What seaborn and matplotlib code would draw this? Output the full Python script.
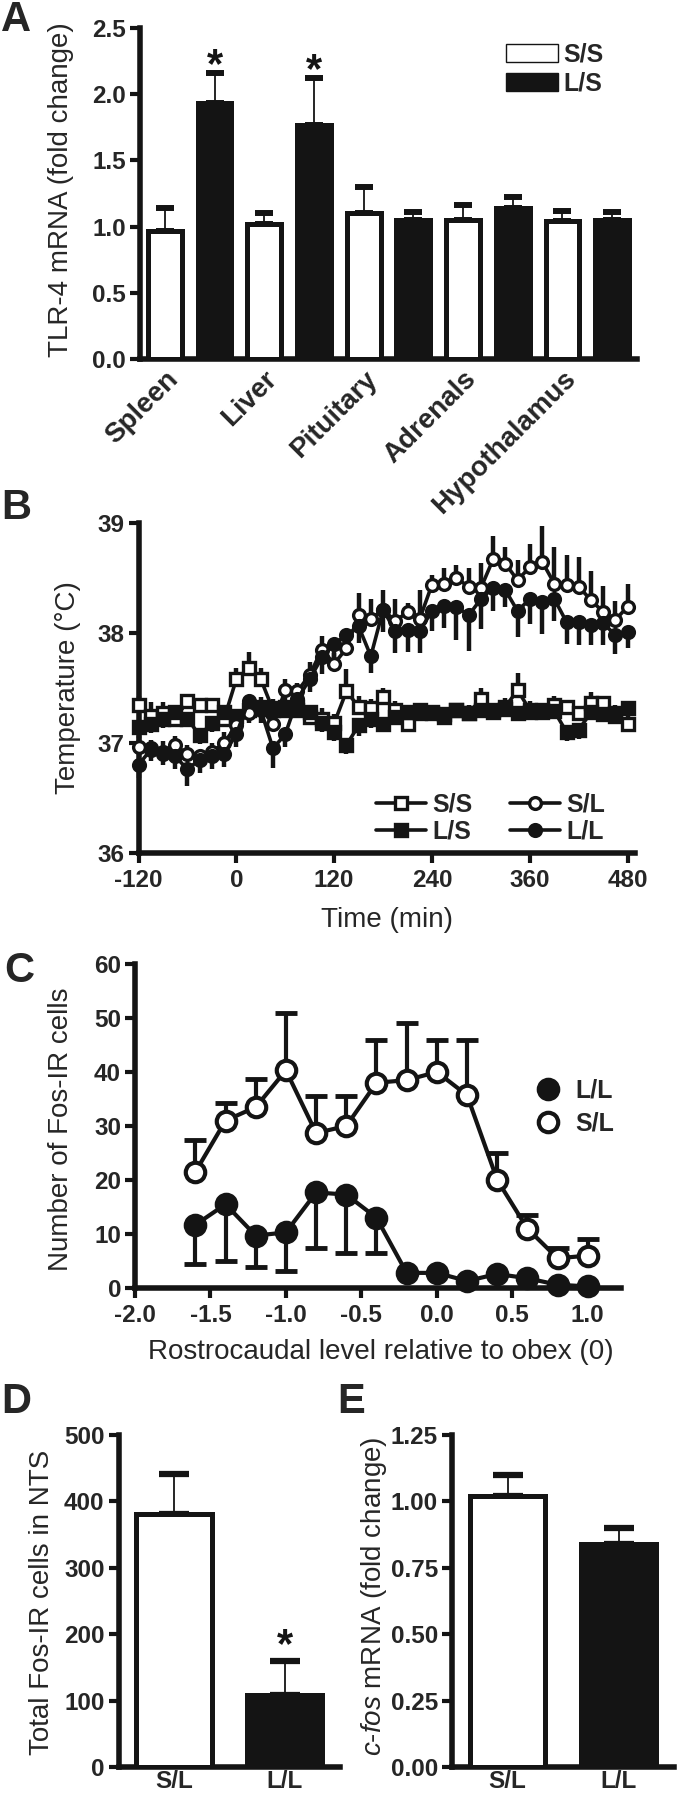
import numpy as np
import pandas as pd
import matplotlib
matplotlib.use("Agg")
import matplotlib.pyplot as plt
import seaborn as sns
from matplotlib.lines import Line2D
from matplotlib.patches import Patch

# ---------------- data ----------------
# Panel A
tissues = ["Spleen", "Liver", "Pituitary", "Adrenals", "Hypothalamus"]
a_ss_mean = [0.97, 1.02, 1.10, 1.05, 1.04]
a_ss_sem = [0.17, 0.08, 0.20, 0.11, 0.08]
a_ls_mean = [1.93, 1.77, 1.05, 1.14, 1.05]
a_ls_sem = [0.23, 0.35, 0.06, 0.08, 0.06]

# Panel B (time in min, temperature in C)
b_time = [-120, -105, -90, -75, -60, -45, -30, -15, 0, 15, 30, 45, 60, 75, 90,
          105, 120, 135, 150, 165, 180, 195, 210, 225, 240, 255, 270, 285, 300,
          315, 330, 345, 360, 375, 390, 405, 420, 435, 450, 465, 480]
b_ss = [37.35, 37.25, 37.27, 37.22, 37.38, 37.35, 37.35, 37.22, 37.58, 37.68,
        37.58, 37.30, 37.33, 37.30, 37.24, 37.22, 37.18, 37.47, 37.33, 37.32,
        37.42, 37.30, 37.17, 37.30, 37.27, 37.24, 37.30, 37.27, 37.40, 37.30,
        37.33, 37.48, 37.30, 37.28, 37.35, 37.33, 37.27, 37.36, 37.36, 37.27, 37.17]
b_ss_sem = [0.08, 0.12, 0.10, 0.08, 0.06, 0.06, 0.06, 0.10, 0.10, 0.15, 0.10,
            0.10, 0.08, 0.08, 0.10, 0.10, 0.08, 0.20, 0.10, 0.08, 0.08, 0.08,
            0.10, 0.06, 0.08, 0.06, 0.06, 0.08, 0.10, 0.06, 0.08, 0.16, 0.08,
            0.06, 0.08, 0.06, 0.06, 0.10, 0.06, 0.08, 0.10]
b_ls = [37.15, 37.17, 37.22, 37.28, 37.22, 37.07, 37.18, 37.28, 37.25, 37.30,
        37.33, 37.32, 37.30, 37.33, 37.28, 37.18, 37.10, 36.98, 37.16, 37.22,
        37.17, 37.24, 37.28, 37.27, 37.28, 37.26, 37.30, 37.27, 37.30, 37.28,
        37.31, 37.27, 37.28, 37.30, 37.29, 37.10, 37.12, 37.28, 37.26, 37.25, 37.32]
b_ls_sem = [0.10, 0.08, 0.08, 0.10, 0.06, 0.08, 0.08, 0.06, 0.06, 0.06, 0.06,
            0.06, 0.05, 0.06, 0.06, 0.08, 0.08, 0.08, 0.10, 0.08, 0.06, 0.05,
            0.06, 0.06, 0.05, 0.06, 0.05, 0.06, 0.05, 0.05, 0.06, 0.06, 0.05,
            0.06, 0.06, 0.08, 0.08, 0.06, 0.06, 0.06, 0.06]
b_sl = [36.96, 36.95, 36.92, 36.98, 36.90, 36.88, 36.92, 37.00, 37.16, 37.27,
        37.32, 37.17, 37.48, 37.47, 37.62, 37.85, 37.72, 37.86, 38.16, 38.13,
        38.21, 38.11, 38.19, 38.13, 38.44, 38.45, 38.50, 38.42, 38.41, 38.67,
        38.63, 38.48, 38.60, 38.65, 38.45, 38.44, 38.42, 38.30, 38.19, 38.12, 38.24]
b_sl_sem = [0.10, 0.08, 0.10, 0.08, 0.08, 0.06, 0.08, 0.10, 0.12, 0.12, 0.10,
            0.10, 0.10, 0.08, 0.12, 0.12, 0.10, 0.10, 0.20, 0.18, 0.18, 0.20,
            0.08, 0.26, 0.09, 0.14, 0.12, 0.17, 0.23, 0.21, 0.15, 0.18, 0.21,
            0.32, 0.33, 0.27, 0.27, 0.26, 0.24, 0.17, 0.21]
b_ll = [36.80, 36.94, 36.90, 36.88, 36.76, 36.85, 36.88, 36.90, 37.08, 37.38,
        37.30, 36.95, 37.08, 37.40, 37.58, 37.78, 37.90, 37.98, 38.06, 37.79,
        38.21, 38.02, 38.03, 38.02, 38.20, 38.25, 38.24, 38.16, 38.31, 38.41,
        38.39, 38.20, 38.31, 38.28, 38.31, 38.10, 38.10, 38.07, 38.09, 37.98, 38.01]
b_ll_sem = [0.12, 0.10, 0.10, 0.12, 0.15, 0.12, 0.12, 0.12, 0.12, 0.20, 0.12,
            0.18, 0.12, 0.12, 0.12, 0.15, 0.15, 0.15, 0.15, 0.15, 0.20, 0.20,
            0.20, 0.20, 0.18, 0.20, 0.30, 0.32, 0.27, 0.21, 0.15, 0.24, 0.23,
            0.29, 0.20, 0.20, 0.21, 0.18, 0.20, 0.17, 0.15]

# Panel C
c_level = [-1.6, -1.4, -1.2, -1.0, -0.8, -0.6, -0.4, -0.2, 0.0, 0.2, 0.4, 0.6, 0.8, 1.0]
c_sl = [21.5, 31.0, 33.5, 40.3, 28.7, 30.0, 38.0, 38.5, 40.0, 35.7, 20.0, 11.0, 5.5, 6.0]
c_sl_sem = [6.0, 3.3, 5.2, 10.7, 6.8, 5.5, 8.0, 10.5, 6.0, 10.3, 5.0, 2.5, 2.0, 3.0]
c_ll = [11.7, 15.5, 9.7, 10.3, 17.7, 17.3, 13.0, 2.8, 2.8, 1.3, 2.6, 1.8, 0.6, 0.3]
c_ll_sem = [7.2, 10.5, 5.8, 7.1, 10.2, 10.8, 6.5, 0.0, 0.0, 0.0, 0.0, 0.0, 0.0, 0.0]

# Panel D and E
de_groups = ["S/L", "L/L"]
d_mean = [381, 108]
d_sem = [60, 52]
e_mean = [1.02, 0.84]
e_sem = [0.08, 0.06]

# ---------------- style ----------------
sns.set_style("ticks")
plt.rcParams["font.family"] = ["Liberation Sans", "DejaVu Sans"]
plt.rcParams["axes.unicode_minus"] = False
plt.rcParams["mathtext.fontset"] = "custom"
plt.rcParams["mathtext.rm"] = "Liberation Sans"
plt.rcParams["mathtext.it"] = "Liberation Sans:italic"

TICK_FS = 17.5
LAB_FS = 20
BLACK = "#141414"
W, H = 679, 1800

fig = plt.figure(figsize=(W / 100, H / 100), dpi=100)


def add_axes(left, right, top, bottom):
    return fig.add_axes([left / W, 1 - bottom / H, (right - left) / W, (bottom - top) / H])


def style_axes(ax, xtick_len=10):
    sns.despine(ax=ax)
    for s in ("left", "bottom"):
        ax.spines[s].set_linewidth(4)
        ax.spines[s].set_color(BLACK)
    ax.tick_params(axis="y", direction="out", length=7, width=3, color=BLACK,
                   labelsize=TICK_FS, pad=3)
    ax.tick_params(axis="x", direction="out", length=xtick_len * 0.72, width=3,
                   color=BLACK, labelsize=TICK_FS, pad=4)
    for lab in ax.get_xticklabels() + ax.get_yticklabels():
        lab.set_fontweight("bold")
    ax.set_xlabel("")
    ax.set_ylabel("")


def ylab(x, y, s):
    fig.text(x / W, 1 - y / H, s, rotation=90, ha="center", va="center", fontsize=LAB_FS)


def xlab(x, y, s):
    fig.text(x / W, 1 - y / H, s, ha="center", va="center", fontsize=LAB_FS)


def letter(x, y, s):
    fig.text(x / W, 1 - y / H, s, ha="left", va="top", fontsize=30, fontweight="bold")


# ---------------- Panel A ----------------
axA = add_axes(140, 637, 28, 359)
slots, vals, sems, grp = [], [], [], []
for i, t in enumerate(tissues):
    slots += [t + " S/S", t + " L/S"]
    vals += [a_ss_mean[i], a_ls_mean[i]]
    sems += [a_ss_sem[i], a_ls_sem[i]]
    grp += ["S/S", "L/S"]
dfA = pd.DataFrame({"slot": slots, "value": vals, "group": grp})
sns.barplot(data=dfA, x="slot", y="value", hue="group", order=slots,
            palette={"S/S": "white", "L/S": BLACK}, dodge=False, width=0.68,
            edgecolor=BLACK, linewidth=3.6, errorbar=None, legend=False, ax=axA, zorder=3)
xa = np.arange(len(slots))
axA.errorbar(xa, vals, yerr=[np.zeros(len(vals)), sems], fmt="none", ecolor=BLACK,
             elinewidth=1.3, capsize=6.5, capthick=4.3, zorder=2)
axA.set_ylim(0, 2.5)
axA.set_xlim(-0.5, 9.5)
axA.set_yticks([0, 0.5, 1.0, 1.5, 2.0, 2.5])
axA.set_yticklabels(["0.0", "0.5", "1.0", "1.5", "2.0", "2.5"])
axA.set_xticks(xa[::2])
axA.set_xticklabels(tissues)
style_axes(axA, xtick_len=0)
axA.tick_params(axis="x", length=0, pad=5, labelsize=20)
for lab in axA.get_xticklabels():
    lab.set_rotation(45)
    lab.set_ha("right")
    lab.set_va("top")
    lab.set_rotation_mode("anchor")
    lab.set_fontweight("bold")
for i in (1, 3):
    axA.text(xa[i], vals[i] + sems[i] - 0.03, "*", ha="center", va="baseline",
             fontsize=30, fontweight="bold", color=BLACK)
axA.legend(handles=[Patch(facecolor="white", edgecolor=BLACK, linewidth=1),
                    Patch(facecolor=BLACK, edgecolor=BLACK, linewidth=1)],
           labels=["S/S", "L/S"], loc="center", bbox_to_anchor=(0.835, 0.876),
           frameon=False, handlelength=2.08, handleheight=0.76, labelspacing=0.2,
           handletextpad=0.2, prop={"size": 18, "weight": "bold"})
ylab(61, 190, "TLR-4 mRNA (fold change)")
letter(1, 0, "A")

# ---------------- Panel B ----------------
axB = add_axes(138.5, 635, 523, 853)
dfB = pd.DataFrame({
    "time": b_time * 4,
    "temp": b_ss + b_ls + b_sl + b_ll,
    "group": ["S/S"] * len(b_time) + ["L/S"] * len(b_time) + ["S/L"] * len(b_time) + ["L/L"] * len(b_time),
})
b_style = {"S/S": ("s", "white", b_ss_sem, "up"), "L/S": ("s", BLACK, b_ls_sem, "down"),
           "S/L": ("o", "white", b_sl_sem, "up"), "L/L": ("o", BLACK, b_ll_sem, "down")}
for g, (mk, fc, se, d) in b_style.items():
    sub = dfB[dfB["group"] == g]
    se = np.array(se)
    yerr = [np.zeros_like(se), se] if d == "up" else [se, np.zeros_like(se)]
    axB.errorbar(sub["time"], sub["temp"], yerr=yerr, fmt="none", ecolor=BLACK,
                 elinewidth=3.2, capsize=0, zorder=2, clip_on=False)
for g, (mk, fc, se, d) in b_style.items():
    sub = dfB[dfB["group"] == g]
    sns.lineplot(data=sub, x="time", y="temp", color=BLACK, linewidth=2.6, marker=mk,
                 markersize=8.5, markerfacecolor=fc, markeredgecolor=BLACK,
                 markeredgewidth=2.4, errorbar=None, legend=False, ax=axB, zorder=3,
                 clip_on=False)
axB.set_xlim(-120, 489)
axB.set_ylim(36, 39)
axB.set_xticks([-120, 0, 120, 240, 360, 480])
axB.set_yticks([36, 37, 38, 39])
style_axes(axB)
b_handles = [Line2D([], [], color=BLACK, lw=2.6, marker=b_style[g][0], ms=8.5,
                    mfc=b_style[g][1], mec=BLACK, mew=2.4) for g in ["S/S", "L/S", "S/L", "L/L"]]
axB.legend(handles=b_handles, labels=["S/S", "L/S", "S/L", "L/L"], ncol=2,
           loc="center", bbox_to_anchor=(0.71, 0.106), frameon=False,
           handlelength=2.0, handletextpad=0.25, columnspacing=1.5, labelspacing=0.1,
           prop={"size": 18, "weight": "bold"})
ylab(68, 688, "Temperature (°C)")
xlab(387, 920, "Time (min)")
letter(1, 488, "B")

# ---------------- Panel C ----------------
axC = add_axes(135, 621, 964, 1288)
dfC = pd.DataFrame({"level": c_level * 2, "count": c_sl + c_ll,
                    "group": ["S/L"] * len(c_level) + ["L/L"] * len(c_level)})
axC.errorbar(c_level, c_sl, yerr=[np.zeros(len(c_sl)), c_sl_sem], fmt="none",
             ecolor=BLACK, elinewidth=3, capsize=8, capthick=3.5, zorder=2, clip_on=False)
axC.errorbar(c_level[:7], c_ll[:7], yerr=[c_ll_sem[:7], np.zeros(7)], fmt="none",
             ecolor=BLACK, elinewidth=3, capsize=8, capthick=3.5, zorder=2, clip_on=False)
for g, fc in (("S/L", "white"), ("L/L", BLACK)):
    sns.lineplot(data=dfC[dfC["group"] == g], x="level", y="count", color=BLACK,
                 linewidth=3, marker="o", markersize=14, markerfacecolor=fc,
                 markeredgecolor=BLACK, markeredgewidth=3, errorbar=None,
                 legend=False, ax=axC, zorder=3, clip_on=False)
axC.set_xlim(-2.0, 1.22)
axC.set_ylim(0, 60)
axC.set_xticks([-2.0, -1.5, -1.0, -0.5, 0.0, 0.5, 1.0])
axC.set_xticklabels(["-2.0", "-1.5", "-1.0", "-0.5", "0.0", "0.5", "1.0"])
axC.set_yticks([0, 10, 20, 30, 40, 50, 60])
style_axes(axC)
c_handles = [Line2D([], [], ls="none", marker="o", ms=14, mfc=BLACK, mec=BLACK, mew=3),
             Line2D([], [], ls="none", marker="o", ms=14, mfc="white", mec=BLACK, mew=3)]
axC.legend(handles=c_handles, labels=["L/L", "S/L"], loc="center",
           bbox_to_anchor=(0.905, 0.559), frameon=False, handlelength=1.0,
           handletextpad=0.6, labelspacing=0.35, prop={"size": 18, "weight": "bold"})
ylab(61, 1129, "Number of Fos-IR cells")
xlab(381, 1352, "Rostrocaudal level relative to obex (0)")
letter(4, 951, "C")

# ---------------- Panel D ----------------
axD = add_axes(118.5, 340, 1435, 1767)
dfD = pd.DataFrame({"group": de_groups, "value": d_mean})
sns.barplot(data=dfD, x="group", y="value", hue="group", order=de_groups,
            palette={"S/L": "white", "L/L": BLACK}, dodge=False, width=0.68,
            edgecolor=BLACK, linewidth=3.6, errorbar=None, legend=False, ax=axD, zorder=3)
axD.errorbar([0, 1], d_mean, yerr=[[0, 0], d_sem], fmt="none", ecolor=BLACK,
             elinewidth=1.3, capsize=11, capthick=4.5, zorder=2)
axD.text(1, d_mean[1] + d_sem[1] + 6, "*", ha="center", va="baseline", fontsize=30,
         fontweight="bold", color=BLACK)
axD.set_xlim(-0.5, 1.5)
axD.set_ylim(0, 500)
axD.set_yticks([0, 100, 200, 300, 400, 500])
style_axes(axD, xtick_len=0)
axD.tick_params(axis="x", length=0, pad=2)
ylab(42, 1602, "Total Fos-IR cells in NTS")
letter(1, 1382, "D")

# ---------------- Panel E ----------------
axE = add_axes(452, 674, 1435, 1767)
dfE = pd.DataFrame({"group": de_groups, "value": e_mean})
sns.barplot(data=dfE, x="group", y="value", hue="group", order=de_groups,
            palette={"S/L": "white", "L/L": BLACK}, dodge=False, width=0.68,
            edgecolor=BLACK, linewidth=3.6, errorbar=None, legend=False, ax=axE, zorder=3)
axE.errorbar([0, 1], e_mean, yerr=[[0, 0], e_sem], fmt="none", ecolor=BLACK,
             elinewidth=1.3, capsize=11, capthick=4.5, zorder=2)
axE.set_xlim(-0.5, 1.5)
axE.set_ylim(0, 1.25)
axE.set_yticks([0, 0.25, 0.5, 0.75, 1.0, 1.25])
axE.set_yticklabels(["0.00", "0.25", "0.50", "0.75", "1.00", "1.25"])
style_axes(axE, xtick_len=0)
axE.tick_params(axis="x", length=0, pad=2)
ylab(374, 1596, r"$\mathit{c}$-$\mathit{fos}$ mRNA (fold change)")
letter(337, 1382, "E")

fig.savefig("out.png", dpi=100)
